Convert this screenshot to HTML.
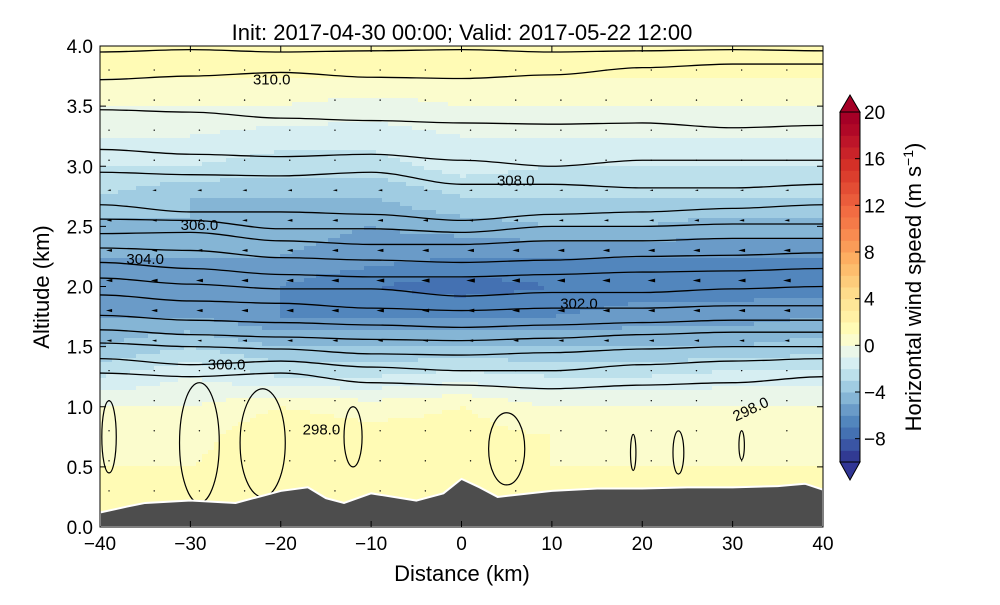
<!DOCTYPE html>
<html><head><meta charset="utf-8">
<style>
body{margin:0;background:#fff;}
svg text{font-family:"Liberation Sans","DejaVu Sans",sans-serif;}
</style></head>
<body>
<svg id="chart" width="1000" height="600" xmlns="http://www.w3.org/2000/svg">
<text x="462" y="40" font-size="22" text-anchor="middle">Init: 2017-04-30 00:00; Valid: 2017-05-22 12:00</text>
<clipPath id="pc"><rect x="100" y="46" width="723" height="481"/></clipPath>
<g id="field" clip-path="url(#pc)"></g>
<g id="contours" clip-path="url(#pc)"></g>
<g id="arrows" clip-path="url(#pc)"></g>
<g id="terrain" clip-path="url(#pc)"></g>
<g id="labels"></g>
<g id="axes"></g>
<g id="cbar"></g>
</svg>
<script>
// ---- data ----
const xCols = [-40,-30,-20,-10,0,10,20,30,40];
const altRows = [0,0.25,0.5,0.75,1.0,1.25,1.5,1.75,2.0,2.25,2.5,2.75,3.0,3.25,3.5,3.75,4.0];
const windRow0  = [1,1,1,1,1,1,1,1,1];
const windRow1  = [1,1,1.5,1.5,1,1,1,1,1];
const windRow2  = [1,1,2,1.5,1.5,1,1,1,1];
const windRow3  = [1,0.5,2,1.5,1.5,1,0.5,0.5,0.5];
const windRow4  = [0,0,1,0.5,1,0,0,0,0];
const windRow5  = [-2,-1,-2,-2,-1.5,-2,-2,-1.5,-1.5];
const windRow6  = [-4,-3,-4,-4,-4,-4,-4,-4,-3.5];
const windRow7  = [-5,-5,-6,-6,-6,-6,-5.5,-5.5,-5];
const windRow8  = [-5.5,-6,-6,-7,-7.5,-7,-6.5,-6.5,-6.5];
const windRow9  = [-5,-5,-5,-5.5,-6,-6,-6,-6,-6];
const windRow10 = [-4.5,-4,-4.5,-5,-4.5,-4,-4,-4.5,-4.5];
const windRow11 = [-3,-4,-4,-4,-3,-3,-3,-3,-3];
const windRow12 = [-2,-2,-2.5,-2.5,-1.5,-2,-2,-2,-2];
const windRow13 = [-1,-1,-1.5,-1.5,-1,-1,-1,-1,-1];
const windRow14 = [0,0,0,-0.5,0,0,0,0,0];
const windRow15 = [1,1,1,1,1,1,1,1,1];
const windRow16 = [1.5,1,1,1,1.5,1.5,1,1,1];
const W = [windRow0,windRow1,windRow2,windRow3,windRow4,windRow5,windRow6,windRow7,windRow8,windRow9,windRow10,windRow11,windRow12,windRow13,windRow14,windRow15,windRow16];

const terrainX = [-40,-37,-35,-30,-25,-22,-20,-17,-15,-13,-10,-5,-2,0,2,4,10,15,20,25,30,35,38,40];
const terrainH = [0.12,0.17,0.2,0.22,0.2,0.26,0.3,0.33,0.24,0.2,0.28,0.22,0.28,0.4,0.33,0.25,0.3,0.32,0.32,0.33,0.33,0.34,0.36,0.31];

const thetaX = [-40,-30,-20,-10,0,10,20,30,40];
const thetaLines = [
 [3.95,3.97,3.95,3.96,3.97,3.95,3.96,3.97,3.96],
 [3.72,3.75,3.78,3.74,3.73,3.76,3.82,3.85,3.85],
 [3.47,3.45,3.4,3.38,3.36,3.35,3.36,3.32,3.34],
 [3.14,3.1,3.08,3.1,3.05,3.0,3.05,3.05,3.05],
 [2.95,2.93,2.92,2.95,2.85,2.85,2.82,2.82,2.85],
 [2.68,2.62,2.62,2.6,2.55,2.6,2.62,2.65,2.68],
 [2.56,2.55,2.48,2.48,2.45,2.5,2.5,2.52,2.52],
 [2.44,2.45,2.38,2.35,2.35,2.38,2.38,2.4,2.4],
 [2.32,2.3,2.24,2.22,2.2,2.22,2.25,2.26,2.28],
 [2.2,2.15,2.1,2.08,2.08,2.1,2.12,2.13,2.15],
 [2.07,2.02,1.98,1.98,1.92,1.95,1.95,1.98,2.0],
 [1.93,1.88,1.86,1.82,1.8,1.82,1.82,1.84,1.84],
 [1.76,1.72,1.7,1.68,1.66,1.68,1.7,1.72,1.72],
 [1.64,1.6,1.58,1.56,1.55,1.57,1.6,1.62,1.62],
 [1.53,1.5,1.48,1.44,1.43,1.45,1.48,1.5,1.5],
 [1.4,1.35,1.38,1.33,1.3,1.3,1.35,1.38,1.4],
 [1.28,1.25,1.28,1.2,1.18,1.15,1.18,1.2,1.25]
];
const loopCx = [-39,-29,-22,-12,5,19,24,31];
const loopCy = [0.75,0.7,0.7,0.75,0.65,0.62,0.62,0.68];
const loopRx = [0.8,2.2,2.5,1.0,2.0,0.3,0.6,0.3];
const loopRy = [0.3,0.5,0.45,0.25,0.3,0.15,0.18,0.12];

const labelText = ["310.0","308.0","306.0","304.0","302.0","300.0","298.0","298.0"];
const labelX = [-21,6,-29,-35,13,-26,-15.5,32];
const labelAlt = [3.72,2.88,2.51,2.23,1.86,1.35,0.81,0.98];
const labelRot = [0,0,0,0,0,0,0,-25];

const cbLevels = [-10,-9,-8,-7,-6,-5,-4,-3,-2,-1,0,1,2,3,4,5,6,7,8,9,10,11,12,13,14,15,16,17,18,19,20];
const cbColors = ["#313a93","#3a55a4","#4471b2","#5286bd","#6a9bc8","#85b5d5","#a0cce2","#bce0eb","#d6eef2","#eaf6e9","#fbfccd","#fffbb5","#fff0a5","#fee698","#fedc8b","#fdcc7b","#fdbd6d","#fdae61","#fa9c58","#f88b50","#f57a48","#f26c42","#ea5c3b","#e34d34","#dc3e2d","#d43027","#c92329","#bd1529","#b00827","#a50026"];
const xTicks = [-40,-30,-20,-10,0,10,20,30,40];
const yTicks = [0,0.5,1,1.5,2,2.5,3,3.5,4];
const cbTicks = [-8,-4,0,4,8,12,16,20];

// ---- scales ----
const X0=100,X1=823,Y0=527,Y1=46;
const sx = v => X0+(v+40)/80*(X1-X0);
const sy = a => Y0-a/4*(Y0-Y1);
const NS="http://www.w3.org/2000/svg";
function mk(tag,attrs,parent){const e=document.createElementNS(NS,tag);for(const k in attrs)e.setAttribute(k,attrs[k]);parent.appendChild(e);return e;}
function colorFor(v){ if(v<cbLevels[0])return "#313695"; if(v>=cbLevels[cbLevels.length-1])return "#a50026"; return cbColors[Math.floor(v-cbLevels[0])]; }
function interp(xv,av){
  let ci=(xv-xCols[0])/(xCols[1]-xCols[0]); ci=Math.max(0,Math.min(xCols.length-1.0001,ci));
  let ri=(av-altRows[0])/(altRows[1]-altRows[0]); ri=Math.max(0,Math.min(altRows.length-1.0001,ri));
  const c=Math.floor(ci),r=Math.floor(ri),fx=ci-c,fy=ri-r;
  return W[r][c]*(1-fx)*(1-fy)+W[r][c+1]*fx*(1-fy)+W[r+1][c]*(1-fx)*fy+W[r+1][c+1]*fx*fy;
}
// ---- field ----
const field=document.getElementById('field');
const cw=6,ch=4;
for(let py=Y1;py<Y0;py+=ch){
  let runStart=X0,runCol=null;
  for(let px=X0;;px+=cw){
    const end=px>=X1;
    let col=null;
    if(!end){const xv=(px+cw/2-X0)/(X1-X0)*80-40;const av=(Y0-(py+ch/2))/(Y0-Y1)*4;col=colorFor(interp(xv,av));}
    if(end||col!==runCol){
      if(runCol){const r=mk('rect',{x:runStart,y:py,width:Math.min(px,X1)-runStart+0.5,height:ch+0.5,fill:runCol},field);
        
        }
      runStart=px;runCol=col;
    }
    if(end)break;
  }
}
// ---- contours ----
const cg=document.getElementById('contours');
thetaLines.forEach(line=>{
  let d="";
  for(let i=0;i<thetaX.length;i++){
    const x=sx(thetaX[i]),y=sy(line[i]);
    if(i===0)d+="M"+x+","+y;
    else{const xp=sx(thetaX[i-1]),yp=sy(line[i-1]);d+=" C"+(xp+30)+","+yp+" "+(x-30)+","+y+" "+x+","+y;}
  }
  const p=mk('path',{d:d,fill:"none",stroke:"#000","stroke-width":1.3},cg);
  
  
});
loopCx.forEach((c,i)=>{
  const e=mk('ellipse',{cx:sx(c),cy:sy(loopCy[i]),rx:loopRx[i]*(X1-X0)/80,ry:loopRy[i]*(Y0-Y1)/4,fill:"none",stroke:"#000","stroke-width":1.2},cg);
  
  
});
// ---- arrows ----
const ag=document.getElementById('arrows');
for(let xv=-39;xv<=40;xv+=5){
  for(let av=0.3;av<=4;av+=0.25){
    const w=interp(xv,av);const x=sx(xv),y=sy(av);
    const L=Math.abs(w)*1.2;
    if(L<3){const d=mk('circle',{cx:x,cy:y,r:0.7,fill:"#000"},ag);
      
      continue;}
    const dir=w<0?-1:1;
    const t=mk('polygon',{points:`${x+dir*L/2},${y} ${x-dir*L/2},${y-L/4} ${x-dir*L/2},${y+L/4}`,fill:"#000"},ag);
    
    
  }
}
// ---- terrain ----
const tg=document.getElementById('terrain');
let td="M"+sx(terrainX[0])+","+Y0;
terrainX.forEach((t,i)=>{td+=" L"+sx(t)+","+sy(terrainH[i]);});
td+=" L"+sx(terrainX[terrainX.length-1])+","+Y0+" Z";
const tp=mk('path',{d:td,fill:"#4d4d4d",stroke:"#fff","stroke-width":2},tg);


// ---- labels ----
const lg=document.getElementById('labels');
labelText.forEach((s,i)=>{
  const x=sx(labelX[i]),y=sy(labelAlt[i]);
  const t=mk('text',{x:x,y:y+5,"font-size":15,"text-anchor":"middle",transform:`rotate(${labelRot[i]} ${x} ${y})`},lg);
  t.textContent=s;
  
  
});
// ---- axes ----
const ax=document.getElementById('axes');
const fr=mk('rect',{x:X0,y:Y1,width:X1-X0,height:Y0-Y1,fill:"none",stroke:"#000","stroke-width":1},ax);


xTicks.forEach(v=>{
  const x=sx(v);
  mk('line',{x1:x,y1:Y0,x2:x,y2:Y0-6,stroke:"#000"},ax);
  mk('line',{x1:x,y1:Y1,x2:x,y2:Y1+6,stroke:"#000"},ax);
  const t=mk('text',{x:x,y:Y0+23,"font-size":19,"text-anchor":"middle"},ax);
  t.textContent=(v<0?"\u2212"+(-v):v);
  
  
});
yTicks.forEach(v=>{
  const y=sy(v);
  mk('line',{x1:X0,y1:y,x2:X0+6,y2:y,stroke:"#000"},ax);
  mk('line',{x1:X1,y1:y,x2:X1-6,y2:y,stroke:"#000"},ax);
  const t=mk('text',{x:X0-7,y:y+7,"font-size":19,"text-anchor":"end"},ax);
  t.textContent=v.toFixed(1);
  
  
});
const xl=mk('text',{x:462,y:581,"font-size":22,"text-anchor":"middle"},ax);xl.textContent="Distance (km)";


const yl=mk('text',{x:49,y:287,"font-size":22,"text-anchor":"middle",transform:"rotate(-90 49 287)"},ax);yl.textContent="Altitude (km)";


// ---- colorbar ----
const cb=document.getElementById('cbar');
const CBX=840,CBW=20,CBT=112,CBB=462;
const cy=v=>CBB-(v+10)/30*(CBB-CBT);
cbColors.forEach((c,i)=>{
  const r=mk('rect',{x:CBX,y:cy(cbLevels[i+1]),width:CBW,height:cy(cbLevels[i])-cy(cbLevels[i+1])+0.5,fill:c},cb);
  
  
});
const up=mk('polygon',{points:`${CBX},${CBT} ${CBX+CBW/2},${CBT-17} ${CBX+CBW},${CBT}`,fill:"#a50026",stroke:"#000"},cb);


const dn=mk('polygon',{points:`${CBX},${CBB} ${CBX+CBW/2},${CBB+18} ${CBX+CBW},${CBB}`,fill:"#313695",stroke:"#000"},cb);


mk('rect',{x:CBX,y:CBT,width:CBW,height:CBB-CBT,fill:"none",stroke:"#000"},cb);
cbTicks.forEach(v=>{
  const y=cy(v);
  mk('line',{x1:CBX+CBW-5,y1:y,x2:CBX+CBW,y2:y,stroke:"#000"},cb);
  const t=mk('text',{x:CBX+CBW+4,y:y+7,"font-size":19},cb);
  t.textContent=(v<0?"\u2212"+(-v):v);
  
  
});
const cl=mk('text',{x:921,y:287,"font-size":22,"text-anchor":"middle",transform:"rotate(-90 921 287)"},cb);
cl.innerHTML='Horizontal wind speed (m s<tspan dy="-8" font-size="14">\u22121</tspan><tspan dy="8">)</tspan>';


</script>
</body></html>
